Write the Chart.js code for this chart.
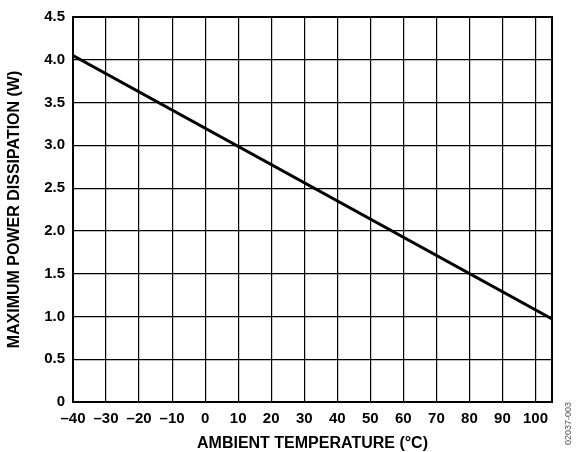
<!DOCTYPE html>
<html>
<head>
<meta charset="utf-8">
<script src="https://cdn.jsdelivr.net/npm/chart.js@4/dist/chart.umd.min.js"></script>
<style>
html,body{margin:0;padding:0;background:#fff;}
#wrap{width:580px;height:452px;position:relative;}
</style>
</head>
<body>
<div id="wrap"><canvas id="c" width="580" height="452"></canvas></div>
<script>
// Data
const temperatures = [-40, 105];          // °C
const maxPower = [4.05, 0.97];            // W
const xTickValues = [-40, -30, -20, -10, 0, 10, 20, 30, 40, 50, 60, 70, 80, 90, 100, 105];
const yTickValues = [0, 0.5, 1.0, 1.5, 2.0, 2.5, 3.0, 3.5, 4.0, 4.5];
const xTitle = 'AMBIENT TEMPERATURE (°C)';
const yTitle = 'MAXIMUM POWER DISSIPATION (W)';
const figureId = '02037-003';

const FONT = 'Liberation Sans, Arial, Helvetica, sans-serif';

const boxPlugin = {
  id: 'box',
  afterDraw(chart) {
    const {ctx, chartArea: a} = chart;
    ctx.save();
    ctx.strokeStyle = '#000';
    ctx.lineWidth = 2;
    ctx.strokeRect(a.left, a.top, a.right - a.left, a.bottom - a.top);
    ctx.translate(569, 402);
    ctx.rotate(-Math.PI / 2);
    ctx.fillStyle = '#555';
    ctx.font = '9px ' + FONT;
    ctx.textAlign = 'right';
    ctx.textBaseline = 'middle';
    ctx.fillText(figureId, 0, 0);
    ctx.restore();
  }
};

new Chart(document.getElementById('c'), {
  type: 'line',
  data: {
    datasets: [{
      data: temperatures.map((t, i) => ({x: t, y: maxPower[i]})),
      borderColor: '#000',
      borderWidth: 3,
      pointRadius: 0,
      tension: 0,
      fill: false
    }]
  },
  options: {
    responsive: false,
    animation: false,
    devicePixelRatio: 1,
    layout: {padding: {top: 17, right: 28, left: 0, bottom: 0}},
    plugins: {legend: {display: false}, tooltip: {enabled: false}},
    scales: {
      x: {
        type: 'linear',
        min: -40, max: 105,
        afterBuildTicks(scale) { scale.ticks = xTickValues.map(v => ({value: v})); },
        afterFit(scale) { scale.height = 50; },
        grid: {color: '#000', lineWidth: 1.2, drawTicks: false},
        border: {display: false},
        ticks: {
          autoSkip: false, maxRotation: 0, padding: 8,
          color: '#000',
          font: {family: FONT, size: 15, weight: 'bold'},
          callback: v => v === 105 ? '' : (v < 0 ? '\u2013' + Math.abs(v) : String(v))
        },
        title: {
          display: true, text: xTitle, color: '#000',
          font: {family: FONT, size: 16, weight: 'bold', lineHeight: 1},
          padding: 0
        }
      },
      y: {
        type: 'linear',
        min: 0, max: 4.5,
        afterBuildTicks(scale) { scale.ticks = yTickValues.map(v => ({value: v})); },
        afterFit(scale) { scale.width = 73; },
        grid: {color: '#000', lineWidth: 1.2, drawTicks: false},
        border: {display: false},
        ticks: {
          padding: 8, color: '#000',
          font: {family: FONT, size: 15, weight: 'bold'},
          callback: v => v === 0 ? '0' : v.toFixed(1)
        },
        title: {
          display: true, text: yTitle, color: '#000',
          font: {family: FONT, size: 16, weight: 'bold', lineHeight: 1},
          padding: {top: 7, bottom: 0}
        }
      }
    }
  },
  plugins: [boxPlugin]
});
</script>
</body>
</html>
